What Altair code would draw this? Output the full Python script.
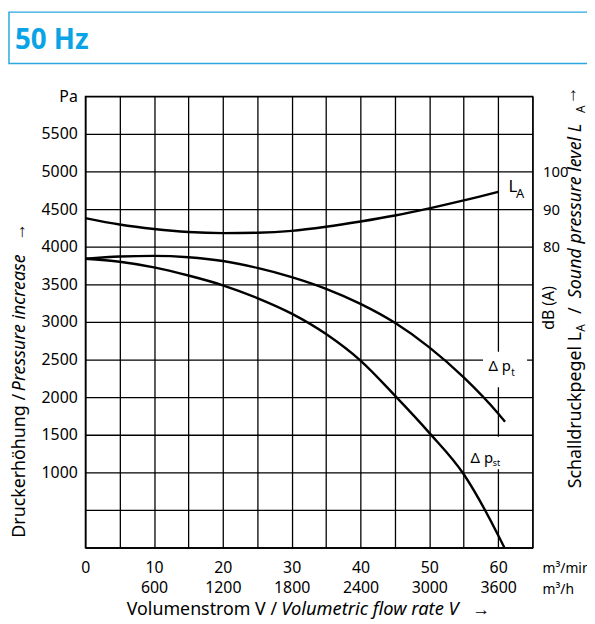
import altair as alt
import pandas as pd

FONT = "Noto Sans"

# ---- data ----
flow = [0, 5, 10, 15, 20, 25, 30, 35, 40, 45, 50, 55, 60, 61]
dp_total = [3840, 3870, 3878, 3860, 3810, 3718, 3596, 3440, 3240, 2988, 2662, 2262, 1782, 1672]
flow_st = [0, 5, 10, 15, 20, 25, 30, 35, 40, 45, 50, 55, 60, 60.9]
dp_static = [3840, 3800, 3726, 3617, 3487, 3317, 3110, 2838, 2485, 2020, 1525, 975, 165, 0]
la_flow = [0, 5, 10, 15, 20, 25, 30, 35, 40, 45, 50, 55, 60]
la_db = [87.6, 85.9, 84.7, 83.9, 83.6, 83.7, 84.2, 85.3, 86.7, 88.3, 90.2, 92.3, 94.6]

x_ticks = list(range(0, 70, 5))
y_ticks = list(range(0, 6500, 500))
db_ticks = [80, 90, 100]

W, H = 452, 456

xs = alt.Scale(domain=[0, 65], nice=False, zero=False)
ys = alt.Scale(domain=[0, 6000], nice=False, zero=False)
dbs = alt.Scale(domain=[0, 120], nice=False, zero=False)

pressure = pd.DataFrame({
    "q": flow + flow_st,
    "p": dp_total + dp_static,
    "s": ["t"] * len(flow) + ["st"] * len(flow_st),
})

x_label_expr = ("datum.value % 10 != 0 ? '' : (datum.value == 0 ? '0' : "
                "[datum.label, '' + (datum.value * 60)])")
y_label_expr = "datum.value == 6000 ? 'Pa' : (datum.value >= 1000 ? datum.label : '')"

AX = dict(labelFont=FONT, labelColor="black", ticks=False,
          labelOverlap=False, labelFlush=False, title=None)

x_axis = alt.Axis(values=x_ticks, labelExpr=x_label_expr, format="d", grid=True,
                  labelFontSize=16, labelPadding=12, labelLineHeight=20,
                  labelBaseline="top", **AX)
y_axis = alt.Axis(values=y_ticks, labelExpr=y_label_expr, format="d", grid=True,
                  labelFontSize=16, labelPadding=8, **AX)
db_axis = alt.Axis(orient="right", values=db_ticks, grid=False, domain=False,
                   labelFontSize=15, labelPadding=10, labelAlign="left", **AX)


def X(field):
    return alt.X(field, scale=xs, axis=x_axis)


curves = alt.Chart(pressure).mark_line(
    interpolate="monotone", color="black", strokeWidth=2.4
).encode(
    x=X("q:Q"),
    y=alt.Y("p:Q", scale=ys, axis=y_axis),
    detail="s:N",
)

la = alt.Chart(pd.DataFrame({"q": la_flow, "db": la_db})).mark_line(
    interpolate="monotone", color="black", strokeWidth=2.4
).encode(
    x=X("q:Q"),
    y=alt.Y("db:Q", scale=dbs, axis=db_axis),
)

# white boxes behind curve labels (pressure coordinates)
boxes = alt.Chart(pd.DataFrame({
    "q1": [57.8, 55.4], "q2": [64.2, 61.1], "p1": [2131, 1040], "p2": [2605, 1474]
})).mark_rect(color="white").encode(
    x=X("q1:Q"), x2="q2:Q",
    y=alt.Y("p1:Q", scale=ys, axis=None), y2="p2:Q",
)


def data_text(text, q, p, size):
    return alt.Chart(pd.DataFrame({"t": [text], "q": [q], "p": [p]})).mark_text(
        align="left", baseline="alphabetic", font=FONT, fontSize=size, color="black"
    ).encode(
        x=X("q:Q"),
        y=alt.Y("p:Q", scale=ys, axis=None),
        text="t:N",
    )


def px_text(text, x, y, size=18, angle=0, italic=False, bold=False, color="black",
            align="left", baseline="alphabetic"):
    return alt.Chart(pd.DataFrame({"t": [text]})).mark_text(
        align=align, baseline=baseline, font=FONT, fontSize=size, angle=angle,
        fontStyle="italic" if italic else "normal",
        fontWeight="bold" if bold else "normal", color=color,
    ).encode(text="t:N", x=alt.value(x), y=alt.value(y))


labels = [
    data_text("Δ p", 58.6, 2342, 15),
    data_text("t", 61.9, 2276, 10),
    data_text("Δ p", 56.0, 1125, 15),
    data_text("st", 59.2, 1079, 9),
    data_text("L", 61.5, 4728, 17),
    data_text("A", 62.6, 4649, 13),
]

title_box = alt.Chart(pd.DataFrame({"a": [0]})).mark_rect(
    filled=False, stroke="#2aa8e0", strokeWidth=1.5
).encode(x=alt.value(-77), x2=alt.value(520), y=alt.value(-85), y2=alt.value(-33))

# pixel positions relative to plot origin (page x - 86, page y - 94)
texts = [
    px_text("50 Hz", -71, -48, size=28, bold=True, color="#0aa4e6"),
    px_text("m³/min", 462, 482, size=14),
    px_text("m³/h", 462, 503, size=14),
    # x axis title
    px_text("Volumenstrom V / ", 42, 524),
    px_text("Volumetric flow rate V", 198, 524, italic=True, size=18.5),
    px_text("→", 391, 524),
    # left axis title
    px_text("Druckerhöhung / ", -61, 446, angle=270),
    px_text("Pressure increase", -61, 298, angle=270, italic=True),
    px_text("→", -61, 146, angle=270),
    # right axis titles
    px_text("dB (A)", 474, 236, angle=270, size=16),
    px_text("Schalldruckpegel L", 501, 396, angle=270),
    px_text("A", 505, 238, size=12, angle=270),
    px_text("/", 501, 220, angle=270),
    px_text("Sound pressure level L", 501, 204, angle=270, italic=True),
    px_text("A", 505, 17, size=12, angle=270),
    px_text("→", 496, 8, angle=270),
]

chart = alt.layer(curves, la, boxes, *labels, title_box, *texts).resolve_scale(
    y="independent"
).properties(
    width=W, height=H,
    padding={"left": 78, "top": 86, "right": 55, "bottom": 70},
    autosize=alt.AutoSizeParams(type="none"),
).configure_axis(
    gridColor="black", gridOpacity=1, gridWidth=1.3,
    domainColor="black", domainWidth=1.5,
).configure_view(stroke="black", strokeWidth=1.3)

chart.save("out.html", embed_options={"renderer": "svg", "actions": False})
